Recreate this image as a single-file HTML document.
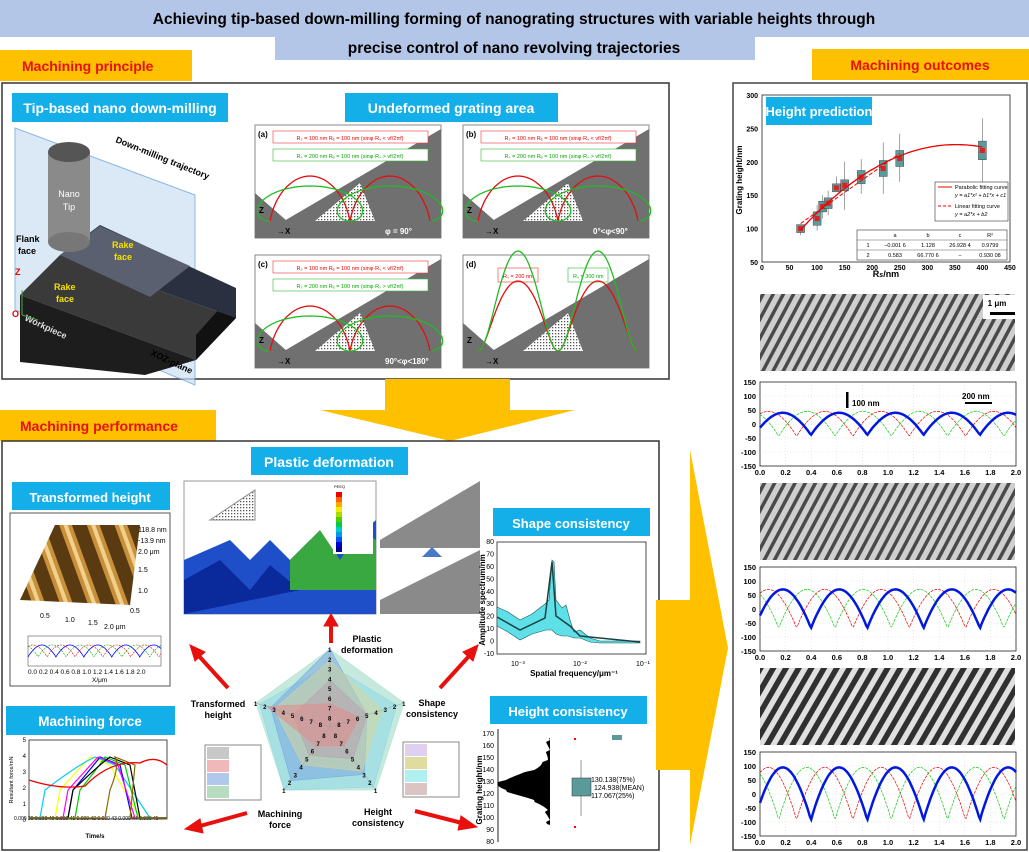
<!DOCTYPE html>
<html><head><meta charset="utf-8"><style>
body{margin:0;width:1029px;height:852px;overflow:hidden;background:#fff;font-family:"Liberation Sans",Arial,sans-serif}
svg{position:absolute;left:0;top:0}
text{font-family:"Liberation Sans",Arial,sans-serif}
</style></head><body>
<svg id="s" width="1029" height="852" viewBox="0 0 1029 852" xmlns="http://www.w3.org/2000/svg">
<defs>
<pattern id="gr" width="9" height="9" patternUnits="userSpaceOnUse" patternTransform="rotate(28)">
<rect width="9" height="9" fill="#cfcfcf"/><rect width="3.5" height="9" fill="#4a4a4a"/></pattern>
<pattern id="gr2" width="11" height="11" patternUnits="userSpaceOnUse" patternTransform="rotate(30)">
<rect width="11" height="11" fill="#e0e0e0"/><rect width="5.5" height="11" fill="#303030"/></pattern>
<pattern id="afm" width="26" height="26" patternUnits="userSpaceOnUse" patternTransform="rotate(-20)">
<rect width="26" height="26" fill="#5a3a10"/><rect x="6" width="12" height="26" fill="#c8903a"/><rect x="10" width="4" height="26" fill="#f0d08a"/></pattern>
<pattern id="dots" width="3" height="3" patternUnits="userSpaceOnUse"><rect width="3" height="3" fill="#fff"/><rect width="1.3" height="1.3" fill="#555"/></pattern>
</defs>
<!-- header -->
<rect x="0" y="0" width="1029" height="37" fill="#b4c6e7"/>
<rect x="275" y="37" width="480" height="23" fill="#b4c6e7"/>
<text x="514" y="24" font-size="15.5" font-weight="bold" text-anchor="middle">Achieving tip-based down-milling forming of nanograting structures with variable heights through</text>
<text x="514" y="53" font-size="15.5" font-weight="bold" text-anchor="middle">precise control of nano revolving trajectories</text>
<rect x="0" y="50" width="192" height="31" fill="#ffc000"/>
<text x="22" y="71" font-size="14" font-weight="bold" fill="#e8100c">Machining principle</text>
<rect x="812" y="49" width="217" height="31" fill="#ffc000"/>
<text x="920" y="70" font-size="14" font-weight="bold" fill="#e8100c" text-anchor="middle">Machining outcomes</text>
<!-- top panel -->
<rect x="2" y="83" width="667" height="296" fill="#fff" stroke="#333" stroke-width="1.5"/>
<rect x="12" y="93" width="216" height="29" fill="#14afe8"/>
<text x="120" y="113" font-size="14" font-weight="bold" fill="#fff" text-anchor="middle">Tip-based nano down-milling</text>
<rect x="345" y="93" width="213" height="29" fill="#14afe8"/>
<text x="451" y="113" font-size="14" font-weight="bold" fill="#fff" text-anchor="middle">Undeformed grating area</text>
<!-- 3D workpiece -->
<polygon points="15,128 195,195 195,385 15,310" fill="#cde0f3" opacity="0.7" stroke="#5b9bd5"/>
<polygon points="20,295 60,255 236,318 196,360" fill="#3a3a3a"/>
<polygon points="20,295 196,360 145,375 20,362" fill="#1d1d1d"/>
<polygon points="196,360 236,318 236,290 196,335" fill="#111"/>
<polygon points="60,255 100,225 236,288 236,318" fill="#2a3040"/>
<polygon points="60,255 100,226 190,266 150,297" fill="#5a6070"/>
<rect x="48" y="152" width="42" height="90" fill="#8a8a8a"/>
<ellipse cx="69" cy="152" rx="21" ry="10" fill="#555"/>
<ellipse cx="69" cy="242" rx="21" ry="10" fill="#777"/>
<text x="69" y="197" font-size="9" fill="#fff" text-anchor="middle">Nano</text>
<text x="69" y="210" font-size="9" fill="#fff" text-anchor="middle">Tip</text>
<text x="16" y="242" font-size="9" font-weight="bold">Flank</text><text x="18" y="254" font-size="9" font-weight="bold">face</text>
<text x="112" y="248" font-size="9" font-weight="bold" fill="#f5e000">Rake</text><text x="114" y="260" font-size="9" font-weight="bold" fill="#f5e000">face</text>
<text x="54" y="290" font-size="9" font-weight="bold" fill="#f5e000">Rake</text><text x="56" y="302" font-size="9" font-weight="bold" fill="#f5e000">face</text>
<text x="115" y="142" font-size="9" font-weight="bold" transform="rotate(22 115 142)">Down-milling trajectory</text>
<text x="24" y="320" font-size="9" font-weight="bold" fill="#ddd" transform="rotate(25 24 320)">Workpiece</text>
<text x="150" y="355" font-size="9" font-weight="bold" transform="rotate(25 150 355)">XOZ-plane</text>
<text x="15" y="275" font-size="9" font-weight="bold" fill="#e00">Z</text>
<text x="12" y="317" font-size="9" font-weight="bold" fill="#e00">O</text>
<line x1="22" y1="315" x2="22" y2="290" stroke="#4a4"/><line x1="22" y1="315" x2="38" y2="320" stroke="#4a4"/>
<g id="subs"></g>
<!-- down arrow -->
<polygon points="385,379 510,379 510,410 575,410 450,441 320,410 385,410" fill="#ffc000"/>
<rect x="0" y="410" width="216" height="31" fill="#ffc000"/>
<text x="20" y="431" font-size="14" font-weight="bold" fill="#e8100c">Machining performance</text>
<!-- bottom panel -->
<rect x="2" y="441" width="657" height="409" fill="#fff" stroke="#333" stroke-width="1.5"/>
<!-- right arrow -->
<polygon points="656,600 690,600 690,450 728,648 690,845 690,770 656,770" fill="#ffc000"/>
<rect x="251" y="447" width="157" height="28" fill="#14afe8"/>
<text x="329" y="467" font-size="14" font-weight="bold" fill="#fff" text-anchor="middle">Plastic deformation</text>
<rect x="12" y="482" width="158" height="28" fill="#14afe8"/>
<text x="90" y="502" font-size="13" font-weight="bold" fill="#fff" text-anchor="middle">Transformed height</text>
<rect x="493" y="508" width="157" height="28" fill="#14afe8"/>
<text x="571" y="528" font-size="13" font-weight="bold" fill="#fff" text-anchor="middle">Shape consistency</text>
<rect x="6" y="706" width="169" height="29" fill="#14afe8"/>
<text x="90" y="726" font-size="13.5" font-weight="bold" fill="#fff" text-anchor="middle">Machining force</text>
<rect x="490" y="696" width="157" height="28" fill="#14afe8"/>
<text x="568" y="716" font-size="13" font-weight="bold" fill="#fff" text-anchor="middle">Height consistency</text>
<!-- plastic deformation images -->
<rect x="184" y="481" width="192" height="133" fill="#fff" stroke="#999"/>
<polygon points="184,560 230,540 250,560 270,540 290,560 310,540 330,560 376,520 376,614 184,614" fill="#1f4fc8"/>
<polygon points="184,580 220,560 250,590 270,565 300,590 184,614" fill="#0a2a9c"/>
<polygon points="290,560 320,530 340,560 360,530 376,540 376,590 290,590" fill="#3aa840"/>
<polygon points="210,520 255,490 255,520" fill="url(#dots)" stroke="#888"/>
<rect x="333" y="484" width="40" height="70" fill="#fff"/>
<g id="cbar"></g>
<rect x="380" y="481" width="100" height="67" fill="#8a8a8a"/>
<rect x="380" y="550" width="100" height="64" fill="#8a8a8a"/>
<polygon points="380,481 480,481 380,540" fill="#fff"/><polygon points="380,550 480,550 380,600" fill="#fff"/>
<polygon points="422,557 432,547 442,557" fill="#4a78c8"/>
<!-- AFM -->
<rect x="10" y="513" width="160" height="173" fill="#fff" stroke="#555"/>
<polygon points="20,600 55,525 140,525 130,605" fill="url(#afm)"/>
<text x="138" y="532" font-size="7">118.8 nm</text><text x="138" y="543" font-size="7">-13.9 nm</text><text x="138" y="554" font-size="7">2.0 μm</text>
<text x="138" y="572" font-size="7">1.5</text><text x="138" y="593" font-size="7">1.0</text><text x="130" y="613" font-size="7">0.5</text>
<text x="40" y="618" font-size="7">0.5</text><text x="65" y="622" font-size="7">1.0</text><text x="88" y="625" font-size="7">1.5</text><text x="104" y="629" font-size="7">2.0 μm</text>
<rect x="28" y="636" width="133" height="30" fill="#fff" stroke="#555" stroke-width="0.6"/>
<text x="28" y="674" font-size="6.5">0.0 0.2 0.4 0.6 0.8 1.0 1.2 1.4 1.6 1.8 2.0</text>
<text x="92" y="682" font-size="6.5">X/μm</text>
<!-- radar -->
<g id="radar"></g>
<text x="367" y="642" font-size="9" font-weight="bold" text-anchor="middle">Plastic</text><text x="367" y="653" font-size="9" font-weight="bold" text-anchor="middle">deformation</text>
<text x="218" y="707" font-size="9" font-weight="bold" text-anchor="middle">Transformed</text><text x="218" y="718" font-size="9" font-weight="bold" text-anchor="middle">height</text>
<text x="432" y="706" font-size="9" font-weight="bold" text-anchor="middle">Shape</text><text x="432" y="717" font-size="9" font-weight="bold" text-anchor="middle">consistency</text>
<text x="280" y="817" font-size="9" font-weight="bold" text-anchor="middle">Machining</text><text x="280" y="828" font-size="9" font-weight="bold" text-anchor="middle">force</text>
<text x="378" y="815" font-size="9" font-weight="bold" text-anchor="middle">Height</text><text x="378" y="826" font-size="9" font-weight="bold" text-anchor="middle">consistency</text>
<rect x="205" y="745" width="56" height="55" fill="#fff" stroke="#888"/>
<rect x="207" y="747" width="22" height="12" fill="#c8c8c8"/><rect x="207" y="760" width="22" height="12" fill="#f0b8b8"/><rect x="207" y="773" width="22" height="12" fill="#b0c8ec"/><rect x="207" y="786" width="22" height="12" fill="#b8dcc0"/>
<rect x="403" y="742" width="56" height="55" fill="#fff" stroke="#888"/>
<rect x="405" y="744" width="22" height="12" fill="#e0d0f0"/><rect x="405" y="757" width="22" height="12" fill="#e0dca0"/><rect x="405" y="770" width="22" height="12" fill="#b0f0f0"/><rect x="405" y="783" width="22" height="12" fill="#dcc4c4"/>
<!-- red arrows -->
<g fill="#e8100c" stroke="#e8100c">
<line x1="331" y1="643" x2="331" y2="624" stroke-width="4"/><polygon points="324,626 338,626 331,614"/>
<line x1="228" y1="688" x2="198" y2="655" stroke-width="4"/><polygon points="190,645 205,652 195,661"/>
<line x1="440" y1="688" x2="470" y2="655" stroke-width="4"/><polygon points="478,645 463,652 473,661"/>
<line x1="247" y1="813" x2="200" y2="826" stroke-width="4"/><polygon points="185,829 200,819 203,833"/>
<line x1="415" y1="811" x2="462" y2="823" stroke-width="4"/><polygon points="477,827 461,816 458,830"/>
</g>
<g id="charts"></g>
<!-- right panel -->
<rect x="733" y="83" width="294" height="767" fill="#fff" stroke="#444" stroke-width="1.5"/>
<g id="right"></g>
<rect x="766" y="97" width="106" height="28" fill="#14afe8"/>
<text x="819" y="116" font-size="13" font-weight="bold" fill="#fff" text-anchor="middle">Height prediction</text>
<text x="886" y="277" font-size="9" font-weight="bold" text-anchor="middle">R<tspan font-size="7" font-style="italic">s</tspan>/nm</text>
<text x="742" y="180" font-size="8" font-weight="bold" text-anchor="middle" transform="rotate(-90 742 180)">Grating height/nm</text>
<rect x="935" y="182" width="73" height="39" fill="#fff" stroke="#333" stroke-width="0.6"/>
<line x1="938" y1="187" x2="952" y2="187" stroke="#e00"/><text x="955" y="189" font-size="5.5">Parabolic fitting curve</text>
<text x="955" y="197" font-size="5.5" font-style="italic">y = a1*x² + b1*x + c1</text>
<line x1="938" y1="206" x2="952" y2="206" stroke="#e00" stroke-dasharray="3,2"/><text x="955" y="208" font-size="5.5">Linear fitting curve</text>
<text x="955" y="216" font-size="5.5" font-style="italic">y = a2*x + b2</text>
<rect x="857" y="230" width="150" height="30" fill="#fff" stroke="#333" stroke-width="0.6"/>
<line x1="857" y1="240" x2="1007" y2="240" stroke="#333" stroke-width="0.4"/><line x1="857" y1="250" x2="1007" y2="250" stroke="#333" stroke-width="0.4"/>
<g font-size="5.5" text-anchor="middle"><text x="895" y="237">a</text><text x="928" y="237">b</text><text x="960" y="237">c</text><text x="990" y="237">R²</text>
<text x="868" y="247">1</text><text x="895" y="247">−0.001 6</text><text x="928" y="247">1.128</text><text x="960" y="247">26.928 4</text><text x="990" y="247">0.9799</text>
<text x="868" y="257">2</text><text x="895" y="257">0.583</text><text x="928" y="257">66.770 6</text><text x="960" y="257">−</text><text x="990" y="257">0.930 08</text></g>
<rect x="760" y="294" width="255" height="77" fill="url(#gr)"/>
<rect x="983" y="295" width="32" height="24" fill="#fff"/><text x="997" y="306" font-size="8" font-weight="bold" text-anchor="middle">1 μm</text><rect x="990" y="312" width="25" height="3" fill="#000"/>
<rect x="760" y="483" width="255" height="77" fill="url(#gr)"/>
<rect x="760" y="668" width="255" height="77" fill="url(#gr2)"/>
</svg>
<script>
var NS="http://www.w3.org/2000/svg",S=document.getElementById('s');
function el(t,a,p){var e=document.createElementNS(NS,t);for(var k in a)e.setAttribute(k,a[k]);(p||S).appendChild(e);return e}
function T(x,y,s,o,p){var e=el('text',Object.assign({x:x,y:y,'font-size':o&&o.fs||7},o&&o.a||{}),p);e.textContent=s;return e}
var sub=document.getElementById('subs');
[[255,125,'(a)','φ = 90°'],[463,125,'(b)','0°<φ<90°'],[255,255,'(c)','90°<φ<180°'],[463,255,'(d)','']].forEach(function(p,i){
var x=p[0],y=p[1],w=186,h=113;
el('rect',{x:x,y:y,width:w,height:h,fill:'#fff',stroke:'#888'},sub);
el('polygon',{points:(x)+','+(y+h)+' '+(x+w)+','+(y+4)+' '+(x+w)+','+(y+h)},sub).setAttribute('fill','#707070');
el('polygon',{points:x+','+(y+h-45)+' '+(x+40)+','+(y+h-10)+' '+x+','+(y+h)},sub).setAttribute('fill','#707070');
el('polygon',{points:(x+60)+','+(y+h-17)+' '+(x+120)+','+(y+h-17)+' '+(x+105)+','+(y+h-55)},sub).setAttribute('fill','url(#dots)');
el('rect',{x:x,y:y+h-17,width:w,height:17,fill:'#707070'},sub);
T(x+3,y+12,p[2],{fs:8,a:{'font-weight':'bold'}},sub);
T(x+4,y+h-25,'Z',{fs:8,a:{'font-weight':'bold'}},sub);T(x+22,y+h-4,'→X',{fs:8,a:{'font-weight':'bold'}},sub);
if(i<3){el('rect',{x:x+18,y:y+6,width:155,height:12,fill:'#fff',stroke:'#e33','stroke-width':0.6},sub);
el('rect',{x:x+18,y:y+24,width:155,height:12,fill:'#fff',stroke:'#3b3','stroke-width':0.6},sub);
T(x+95,y+15,'Rₛ = 100 nm  Rₑ = 100 nm (sinφ·Rₛ < vf/2πf)',{fs:5.5,a:{fill:'#e00','text-anchor':'middle'}},sub);
T(x+95,y+33,'Rₛ = 200 nm  Rₑ = 100 nm (sinφ·Rₛ > vf/2πf)',{fs:5.5,a:{fill:'#0a0','text-anchor':'middle'}},sub);}
else{el('rect',{x:x+35,y:y+13,width:40,height:14,fill:'#fff',stroke:'#e33','stroke-width':0.6},sub);T(x+40,y+23,'Rₛ = 200 nm',{fs:5.5,a:{fill:'#e00'}},sub);
el('rect',{x:x+105,y:y+13,width:40,height:14,fill:'#fff',stroke:'#3b3','stroke-width':0.6},sub);T(x+110,y+23,'Rₛ = 300 nm',{fs:5.5,a:{fill:'#0a0'}},sub);}
if(p[3])T(x+130,y+h-4,p[3],{fs:8,a:{fill:'#fff','font-weight':'bold'}},sub);
function cyc(col,A,amp){var d='';for(var t=0;t<=1;t+=0.01){var a=t*Math.PI*2*2;var X=x+15+t*160-A*Math.sin(a),Y=y+h-17-amp*(1-Math.cos(a))/2;d+=(t?'L':'M')+X.toFixed(1)+','+Y.toFixed(1)}el('path',{d:d,fill:'none',stroke:col,'stroke-width':1.3},sub)}
if(i<3){cyc('#e01010',12,45);cyc('#22bb22',30,35)}else{cyc('#e01010',4,70);cyc('#22bb22',2,100)}
});
var cb=['#e00','#f60','#fa0','#ee0','#ad0','#5c0','#0c4','#0cc','#09e','#05e','#00c','#008'];
cb.forEach(function(c,i){el('rect',{x:336,y:492+i*5,width:6,height:5,fill:c});});
T(334,488,'PEEQ',{fs:4});
var rg=document.getElementById('radar'),cx=330,cy=727,R=78;
function pt(k,r){var a=-Math.PI/2+k*2*Math.PI/5;return [cx+r*Math.cos(a),cy+r*Math.sin(a)]}
function poly(rs,f,op){el('polygon',{points:rs.map(function(r,k){return pt(k,r*R).join(',')}).join(' '),fill:f,'fill-opacity':op,stroke:f,'stroke-opacity':0.9,'stroke-width':0.6},rg)}
poly([1,1,1,1,1],'#b8e4d4',0.8);poly([0.8,0.9,0.95,1,0.95],'#88d8e8',0.5);poly([1,0.5,0.75,0.85,0.8],'#7aa8e0',0.55);
poly([0.85,0.7,0.7,0.6,0.75],'#d8d498',0.5);poly([0.6,0.5,0.5,0.45,0.5],'#b8a0b0',0.5);poly([0.3,0.4,0.3,0.3,0.85],'#e09090',0.6);
for(var k=0;k<5;k++){var e=pt(k,R);el('line',{x1:cx,y1:cy,x2:e[0],y2:e[1],stroke:'#999','stroke-width':0.4},rg);
for(var j=1;j<=8;j++){var q=pt(k,R*(1-(j-1)/8));T(q[0]-2,q[1]+3,''+j,{fs:6,a:{'font-weight':'bold'}},rg)}}
var ch=document.getElementById('charts');
function axes(x0,y0,x1,y1){el('rect',{x:x0,y:y0,width:x1-x0,height:y1-y0,fill:'#fff',stroke:'#222','stroke-width':0.8},ch)}
axes(497,542,646,654);
[80,70,60,50,40,30,20,10,0,-10].forEach(function(v){var y=654-(v+10)/90*112;T(494,y+2,''+v,{fs:7,a:{'text-anchor':'end'}},ch)});
T(511,666,'10⁻³',{fs:7},ch);T(573,666,'10⁻²',{fs:7},ch);T(636,666,'10⁻¹',{fs:7},ch);
T(574,676,'Spatial frequency/μm⁻¹',{fs:8,a:{'font-weight':'bold','text-anchor':'middle'}},ch);
T(485,600,'Amplitude spectrum/nm',{fs:8,a:{'font-weight':'bold','text-anchor':'middle',transform:'rotate(-90 485 600)'}},ch);
(function(){var d='M497,607 L508,612 L520,620 L532,614 L545,604 L549,600 L552,560 L554,562 L556,600 L562,608 L566,605 L570,620 L574,632 L580,630 L590,638 L600,641 L640,641 L640,643 L600,643 L590,642 L580,638 L574,638 L568,636 L562,636 L556,634 L552,630 L546,630 L532,634 L520,640 L508,632 L497,626 Z';
el('path',{d:d,fill:'#5fe0e8',stroke:'#1a5a5a','stroke-width':0.6},ch);
el('path',{d:'M497,617 L520,630 L545,618 L552,562 L556,616 L570,626 L580,636 L640,642',fill:'none',stroke:'#1a4040','stroke-width':1.5},ch)})();
el('line',{x1:498,y1:729,x2:498,y2:842,stroke:'#222'},ch);
[170,160,150,140,130,120,110,100,90,80].forEach(function(v,i){var y=733+i*12;T(494,y+3,''+v,{fs:7,a:{'text-anchor':'end'}},ch)});
T(482,790,'Grating height/nm',{fs:8,a:{'font-weight':'bold','text-anchor':'middle',transform:'rotate(-90 482 790)'}},ch);
(function(){var d='M550,738';for(var y=738;y<825;y+=2){var w=Math.exp(-Math.pow((y-785)/14,2))*50+((y*7)%5);d+=' L'+(550-w).toFixed(1)+','+y}d+=' L550,825 Z';el('path',{d:d,fill:'#000'},ch)})();
el('line',{x1:581,y1:760,x2:581,y2:816,stroke:'#555','stroke-width':0.6},ch);
el('rect',{x:572,y:778,width:19,height:18,fill:'#5b9a9a',stroke:'#333','stroke-width':0.5},ch);
el('rect',{x:612,y:735,width:10,height:5,fill:'#5b9a9a'},ch);
T(591,782,'130.138(75%)',{fs:7},ch);T(594,790,'124.938(MEAN)',{fs:7},ch);T(591,798,'117.067(25%)',{fs:7},ch);
el('rect',{x:574,y:738,width:2,height:2,fill:'#e00'},ch);el('rect',{x:574,y:826,width:2,height:2,fill:'#e00'},ch);
axes(29,740,167,819);
[5,4,3,2,1,0].forEach(function(v,i){T(26,742+i*16,''+v,{fs:6,a:{'text-anchor':'end'}},ch)});
T(14,820,'0.000 39  0.000 40  0.000 41  0.000 42  0.000 43  0.000 44  0.000 45',{fs:5},ch);
T(95,838,'Time/s',{fs:6,a:{'font-weight':'bold','text-anchor':'middle'}},ch);
T(13,780,'Resultant force/mN',{fs:5.5,a:{'text-anchor':'middle',transform:'rotate(-90 13 780)'}},ch);
[['#ff0',55,90,140],['#0cf',40,95,150],['#00f',68,100,132],['#f0f',63,98,135],['#0c0',75,105,138],['#000',68,110,140],['#886a00',105,115,130]].forEach(function(c){
el('path',{d:'M29,818 L'+c[1]+',818 L'+(c[1]+5)+',790 Q'+((c[1]+c[2])/2+10)+',765 '+c[2]+',757 L'+(c[2]+20)+',765 L'+c[3]+',818 L167,818',fill:'none',stroke:c[0],'stroke-width':1.2},ch)});
el('path',{d:'M29,780 Q60,790 85,786 Q110,760 140,763 Q155,755 167,765',fill:'none',stroke:'#e00','stroke-width':1.3},ch);
function wv(x0,x1,y0,y1,amp,per,ph,col,w,dash,g){var d='';for(var i=0;i<=200;i++){var t=i/200,X=x0+t*(x1-x0);var s=Math.abs(Math.sin(Math.PI*(t*2/per)+ph));var v=amp*(1-2*Math.pow(s,0.9))*-1;var Y=(y0+y1)/2-v*(y1-y0)/300;d+=(i?'L':'M')+X.toFixed(1)+','+Y.toFixed(1)}var a={d:d,fill:'none',stroke:col,'stroke-width':w};if(dash)a['stroke-dasharray']=dash;el('path',a,g||ch)}
wv(28,161,636,666,60,0.42,0,'#00f',0.8,null);wv(28,161,636,666,60,0.42,1,'#e00',0.6,'2,1');wv(28,161,636,666,60,0.42,2,'#0a0',0.6,'2,1');
var rp=document.getElementById('right');
el('rect',{x:762,y:95,width:248,height:167,fill:'#fff',stroke:'#222','stroke-width':0.8},rp);
[300,250,200,150,100,50].forEach(function(v){var y=262-(v-50)*0.668;T(758,y+3,''+v,{fs:7,a:{'text-anchor':'end','font-weight':'bold'}},rp)});
[0,50,100,150,200,250,300,350,400,450].forEach(function(v){T(762+v*0.551,270,''+v,{fs:7,a:{'text-anchor':'middle','font-weight':'bold'}},rp)});
function X(v){return 762+v*0.551}function Y(v){return 262-(v-50)*0.668}
[[70,100,6,90,100],[100,115,10,97,135],[110,133,8,115,150],[120,138,8,120,157],[135,161,6,160,178],[150,165,8,128,200],[180,177,10,152,204],[220,190,12,152,229],[250,205,12,170,242],[400,217,14,170,265]].forEach(function(b){
el('line',{x1:X(b[0]),y1:Y(b[3]),x2:X(b[0]),y2:Y(b[4]),stroke:'#666','stroke-width':0.6},rp);
el('rect',{x:X(b[0])-4,y:Y(b[1]+b[2]),width:8,height:b[2]*2*0.668,fill:'#5b9a9a',stroke:'#333','stroke-width':0.4},rp);
el('rect',{x:X(b[0])-2.5,y:Y(b[1])-2.5,width:5,height:5,fill:'#d22'},rp)});
var d='';for(var v=70;v<=400;v+=5){d+=(v>70?'L':'M')+X(v).toFixed(1)+','+Y(-0.0016*v*v+1.128*v+26.93).toFixed(1)}el('path',{d:d,fill:'none',stroke:'#e00','stroke-width':1.3},rp);
el('line',{x1:X(70),y1:Y(107.6),x2:X(250),y2:Y(212.5),stroke:'#e00','stroke-dasharray':'4,2','stroke-width':1},rp);
function ytraj(x0,y0,depth){var d='';for(var i=0;i<=100;i++){var t=i/100,a=t*Math.PI*4;var xx=x0+t*90-6*Math.sin(a),yy=y0+depth*(1-Math.abs(Math.sin(a/2)))*-1;d+=(i?'L':'M')+xx.toFixed(1)+','+(yy+depth).toFixed(1)}el('path',{d:d,fill:'none',stroke:'#ff0','stroke-width':2},rp)}
ytraj(778,318,18);ytraj(775,505,30);ytraj(770,675,62);
function wchart(y0,amp,amp2){var y1=y0+84;el('rect',{x:760,y:y0,width:256,height:84,fill:'#fff',stroke:'#222','stroke-width':0.8},rp);
for(var g=1;g<10;g++)el('line',{x1:760+g*25.6,y1:y0,x2:760+g*25.6,y2:y1,stroke:'#ccc','stroke-width':0.4,'stroke-dasharray':'1,2'},rp);
for(var g=1;g<6;g++)el('line',{x1:760,y1:y0+g*14,x2:1016,y2:y0+g*14,stroke:'#ccc','stroke-width':0.4,'stroke-dasharray':'1,2'},rp);
[150,100,50,0,-50,-100,-150].forEach(function(v,i){T(756,y0+i*14+3,''+v,{fs:7.5,a:{'text-anchor':'end','font-weight':'bold'}},rp)});
['0.0','0.2','0.4','0.6','0.8','1.0','1.2','1.4','1.6','1.8','2.0'].forEach(function(s,i){T(760+i*25.6,y1+9,s,{fs:7.5,a:{'text-anchor':'middle','font-weight':'bold'}},rp)});
wv(760,1016,y0,y1,amp2,0.44,1.1,'#e00',0.7,'3,1',rp);wv(760,1016,y0,y1,amp2,0.44,2.1,'#1c1',0.7,'3,1',rp);wv(760,1016,y0,y1,amp,0.44,0.3,'#0018e0',2.5,null,rp);}
wchart(382,40,45);wchart(567,70,70);wchart(752,95,95);
el('rect',{x:846,y:392,width:2.5,height:16,fill:'#000'},rp);T(852,406,'100 nm',{fs:8,a:{'font-weight':'bold'}},rp);
el('rect',{x:965,y:402,width:27,height:2,fill:'#000'},rp);T(962,399,'200 nm',{fs:8,a:{'font-weight':'bold'}},rp);
</script>
</body></html>
